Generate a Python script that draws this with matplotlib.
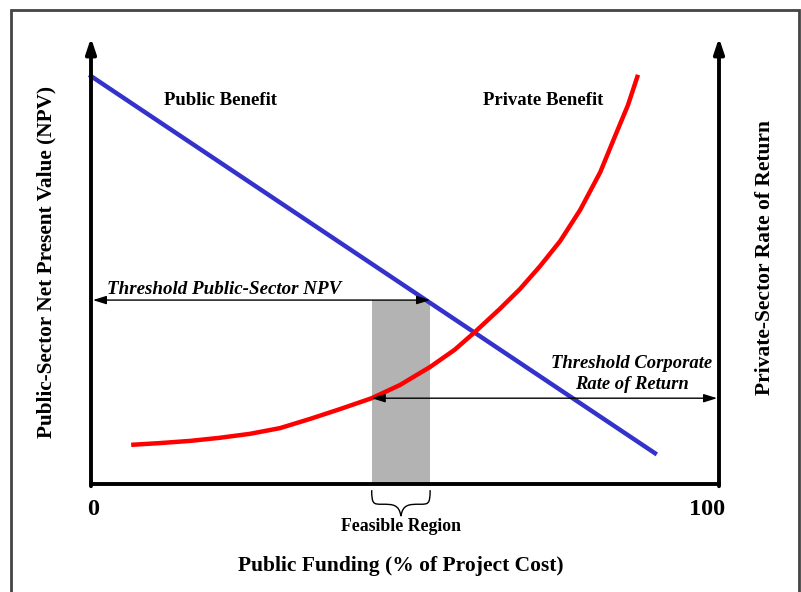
import matplotlib
matplotlib.use("Agg")
import matplotlib.pyplot as plt
from matplotlib.patches import Rectangle, PathPatch
from matplotlib.path import Path

plt.rcParams['font.family'] = ['Liberation Serif', 'DejaVu Serif']

# Data (x: public funding 0-100, y: relative scale 0-100)
public_x = [0, 89.8]
public_y = [92.7, 7.0]
private_x = [6.4, 11.0, 15.8, 20.5, 25.3, 30.1, 34.9, 39.6, 44.7, 49.2,
             54.0, 57.9, 61.1, 65.1, 68.3, 71.5, 74.7, 77.9, 81.1, 83.4, 85.5, 87.1]
private_y = [8.9, 9.3, 9.8, 10.5, 11.4, 12.7, 14.8, 17.0, 19.5, 22.5,
             26.6, 30.5, 34.5, 39.8, 44.3, 49.5, 55.2, 62.3, 70.9, 78.9, 86.1, 93.0]
npv_threshold = 41.8
npv_threshold_x = 54.0
ror_threshold = 19.5
ror_threshold_x = 44.7
feasible = [44.7, 54.0]
tick_labels = ["0", "100"]

fig = plt.figure(figsize=(8.01, 5.92), dpi=100)
W, H = 801, 592
ax = fig.add_axes([91 / W, (H - 484) / H, 628 / W, 440 / H])
ax.set_xlim(0, 100)
ax.set_ylim(0, 100)
ax.axis('off')

# figure border
fig.add_artist(Rectangle((11 / W, -0.02), (799 - 11) / W, (H - 10) / H + 0.02,
                         transform=fig.transFigure, fill=False, edgecolor='#444444', lw=2))

# feasible region
ax.add_patch(Rectangle((feasible[0], 0), feasible[1] - feasible[0], npv_threshold,
                       facecolor='#b3b3b3', edgecolor='none', zorder=1))

# axes with arrows
arrow_kw = dict(arrowstyle='-|>,head_length=0.9,head_width=0.3', color='black', lw=2.8,
                shrinkA=0, shrinkB=0)
ax.annotate('', xy=(0, 101.4), xytext=(0, -0.5), arrowprops=arrow_kw, annotation_clip=False, zorder=5)
ax.annotate('', xy=(100, 101.4), xytext=(100, -0.5), arrowprops=arrow_kw, annotation_clip=False, zorder=5)
ax.plot([0, 100], [0, 0], color='black', lw=2.8, solid_capstyle='projecting', clip_on=False, zorder=5)

# curves
ax.plot(public_x, public_y, color='#3333cc', lw=3.2, clip_on=False, zorder=3)
ax.plot(private_x, private_y, color='#ff0000', lw=3.2, clip_on=False, zorder=3,
        solid_capstyle='butt', solid_joinstyle='round')

# threshold arrows
darr = dict(arrowstyle='<|-|>,head_length=0.8,head_width=0.25', color='black', lw=1.0,
            shrinkA=0, shrinkB=0)
ax.annotate('', xy=(0.3, npv_threshold), xytext=(npv_threshold_x, npv_threshold),
            arrowprops=darr, annotation_clip=False, zorder=4)
ax.annotate('', xy=(ror_threshold_x, ror_threshold), xytext=(99.7, ror_threshold),
            arrowprops=darr, annotation_clip=False, zorder=4)

# brace
x0, x1 = feasible
xm = (x0 + x1) / 2
yt, ymid, yb = -1.4, -4.6, -7.3
verts = [(x0, yt), (x0, ymid), (x0 + 0.3, ymid), (x0 + 1.6, ymid),
         (xm - 1.3, ymid), (xm - 0.3, ymid), (xm, yb),
         (xm + 0.3, ymid), (xm + 1.3, ymid), (x1 - 1.6, ymid),
         (x1 - 0.3, ymid), (x1, ymid), (x1, yt)]
codes = [Path.MOVETO] + [Path.CURVE4] * 12
ax.add_patch(PathPatch(Path(verts, codes), fill=False, lw=1.0, edgecolor='black', clip_on=False))

# texts
ax.text(20.7, 87.2, "Public Benefit", ha='center', va='center', fontsize=13.5, fontweight='bold')
ax.text(72.0, 87.2, "Private Benefit", ha='center', va='center', fontsize=13.5, fontweight='bold')
ax.text(21.2, 44.3, "Threshold Public-Sector NPV", ha='center', va='center', fontsize=13.7,
        fontweight='bold', fontstyle='italic')
ax.text(86.1, 24.9, "Threshold Corporate\nRate of Return", ha='center', va='center', fontsize=13.4,
        fontweight='bold', fontstyle='italic', linespacing=1.3)
ax.text(xm, -9.7, "Feasible Region", ha='center', va='center', fontsize=12.8, fontweight='bold')
ax.text(0.3, -5.7, tick_labels[0], ha='center', va='center', fontsize=17.5, fontweight='bold')
ax.text(98.1, -5.7, tick_labels[1], ha='center', va='center', fontsize=17.5, fontweight='bold')

fig.text(401 / W, 1 - 566 / H, "Public Funding (% of Project Cost)", ha='center', va='center',
         fontsize=15.5, fontweight='bold')
fig.text(46 / W, 1 - 262 / H, "Public-Sector Net Present Value (NPV)", ha='center', va='center',
         fontsize=15.3, fontweight='bold', rotation=90)
fig.text(765 / W, 1 - 258 / H, "Private-Sector Rate of Return", ha='center', va='center',
         fontsize=15.5, fontweight='bold', rotation=90)

fig.savefig("out.png", dpi=100)
